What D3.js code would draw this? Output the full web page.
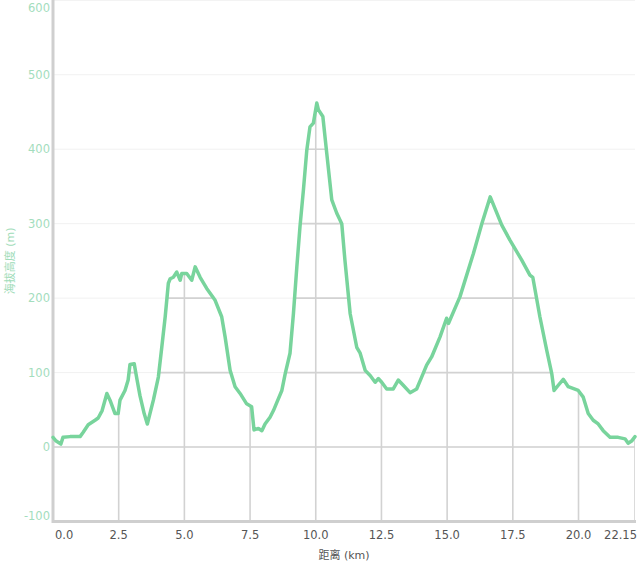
<!DOCTYPE html>
<html>
<head>
<meta charset="utf-8">
<script src="https://cdn.jsdelivr.net/npm/d3@7/dist/d3.min.js"></script>
<style>
  html, body { margin: 0; padding: 0; background: #fff; }
  svg { display: block; }
</style>
</head>
<body>
<script>
// ---- data ----
const distanceKm = [0.00,0.12,0.30,0.38,0.65,1.03,1.15,1.34,1.60,1.72,1.87,2.05,2.17,2.36,2.48,2.55,2.74,2.86,2.93,3.09,3.20,3.31,3.47,3.59,3.82,4.01,4.14,4.27,4.39,4.46,4.58,4.71,4.84,4.90,5.09,5.28,5.41,5.60,5.85,6.17,6.42,6.55,6.74,6.93,7.12,7.37,7.56,7.65,7.82,7.95,8.07,8.26,8.39,8.52,8.71,8.84,9.02,9.15,9.28,9.40,9.53,9.66,9.78,9.91,10.04,10.10,10.27,10.42,10.61,10.80,10.99,11.11,11.31,11.56,11.69,11.88,12.07,12.26,12.38,12.51,12.70,12.95,13.14,13.33,13.59,13.84,14.03,14.22,14.41,14.73,14.98,15.05,15.49,16.00,16.32,16.64,17.08,17.39,17.84,18.15,18.26,18.53,18.79,18.98,19.07,19.23,19.42,19.61,19.99,20.18,20.37,20.56,20.75,20.94,21.20,21.51,21.77,21.89,22.02,22.15];
const elevationM = [13,8,4,13,14,14,20,30,36,39,49,72,63,45,45,63,76,90,111,112,90,69,45,31,63,94,134,175,220,226,228,235,224,233,233,224,242,228,213,197,175,148,103,81,72,58,54,23,25,22,31,40,49,60,76,99,126,179,242,296,345,399,430,435,462,453,444,394,332,314,300,251,179,134,126,103,96,87,92,87,78,78,90,83,73,78,94,110,121,148,173,166,202,260,300,336,298,278,251,231,228,175,130,99,76,83,91,81,76,67,45,36,31,22,13,13,11,5,8,14];
const xTicks = [0, 2.5, 5, 7.5, 10, 12.5, 15, 17.5, 20, 22.15];
const xTickLabels = ["0.0","2.5","5.0","7.5","10.0","12.5","15.0","17.5","20.0","22.15"];
const yTicks = [-100, 0, 100, 200, 300, 400, 500, 600];
const xTitle = "距离 (km)";
const yTitle = "海拔高度 (m)";

(function () {
const data = distanceKm.map((d, i) => ({ x: d, y: elevationM[i] }));

// ---- layout ----
const W = 640, H = 565;
const pLeft = 53, pRight = 635, pTop = 0.3, pBottom = 521.5;
const font = "'DejaVu Sans', Verdana, 'Noto Sans CJK SC', sans-serif";

const x = d3.scaleLinear().domain([0, 22.15]).range([pLeft, pRight]);
const y = d3.scaleLinear().domain([-100, 600]).range([pBottom, pTop]);

const svg = d3.select("body").append("svg").attr("width", W).attr("height", H);

// faint gridlines (everywhere)
svg.append("g").selectAll("line").data(yTicks).join("line")
  .attr("x1", pLeft).attr("x2", pRight)
  .attr("y1", d => y(d)).attr("y2", d => y(d))
  .attr("stroke", "#f1f1f1").attr("stroke-width", 1);

// clip to area under the curve
const area = d3.area().x(d => x(d.x)).y0(pBottom).y1(d => y(d.y));
svg.append("clipPath").attr("id", "under")
  .append("path").datum(data).attr("d", area);

const gUnder = svg.append("g").attr("clip-path", "url(#under)");
gUnder.selectAll("line.h").data(yTicks).join("line").attr("class", "h")
  .attr("x1", pLeft).attr("x2", pRight)
  .attr("y1", d => y(d)).attr("y2", d => y(d))
  .attr("stroke", "#d2d2d2").attr("stroke-width", 1.6);
gUnder.selectAll("line.v").data(xTicks).join("line").attr("class", "v")
  .attr("x1", d => x(d)).attr("x2", d => x(d))
  .attr("y1", pTop).attr("y2", pBottom)
  .attr("stroke", "#d2d2d2").attr("stroke-width", 1.6);

// axes lines
svg.append("line").attr("x1", pLeft).attr("x2", pLeft).attr("y1", 0).attr("y2", pBottom + 1.5)
  .attr("stroke", "#cfcfcf").attr("stroke-width", 3);
svg.append("line").attr("x1", pLeft).attr("x2", pRight + 1).attr("y1", pBottom).attr("y2", pBottom)
  .attr("stroke", "#cfcfcf").attr("stroke-width", 3);

// elevation line
const line = d3.line().x(d => x(d.x)).y(d => y(d.y));
svg.append("path").datum(data).attr("d", line)
  .attr("fill", "none").attr("stroke", "#78d49c").attr("stroke-width", 3.5)
  .attr("stroke-linejoin", "round").attr("stroke-linecap", "round");

// y tick labels
svg.append("g").selectAll("text").data(yTicks).join("text")
  .attr("x", 50)
  .attr("y", d => Math.max(8, Math.min(516, y(d))))
  .attr("dy", "0.35em")
  .attr("text-anchor", "end")
  .attr("font-family", font).attr("font-size", 11.5)
  .attr("fill", "#a3ddbd")
  .text(d => d);

// x tick labels
svg.append("g").selectAll("text").data(xTicks).join("text")
  .attr("x", (d, i) => i === 0 ? pLeft + 2 : (i === xTicks.length - 1 ? pRight + 2 : x(d)))
  .attr("y", 535)
  .attr("dy", "0.35em")
  .attr("text-anchor", (d, i) => i === 0 ? "start" : (i === xTicks.length - 1 ? "end" : "middle"))
  .attr("font-family", font).attr("font-size", 11.5)
  .attr("fill", "#555")
  .text((d, i) => xTickLabels[i]);

// titles
svg.append("text").attr("x", (pLeft + pRight) / 2).attr("y", 555).attr("dy", "0.35em")
  .attr("text-anchor", "middle").attr("font-family", font).attr("font-size", 11)
  .attr("fill", "#555").text(xTitle);
svg.append("text")
  .attr("transform", `translate(10,${(pTop + pBottom) / 2}) rotate(-90)`)
  .attr("dy", "0.35em")
  .attr("text-anchor", "middle").attr("font-family", font).attr("font-size", 11)
  .attr("fill", "#9fdcb9").text(yTitle);
})();
</script>
</body>
</html>
